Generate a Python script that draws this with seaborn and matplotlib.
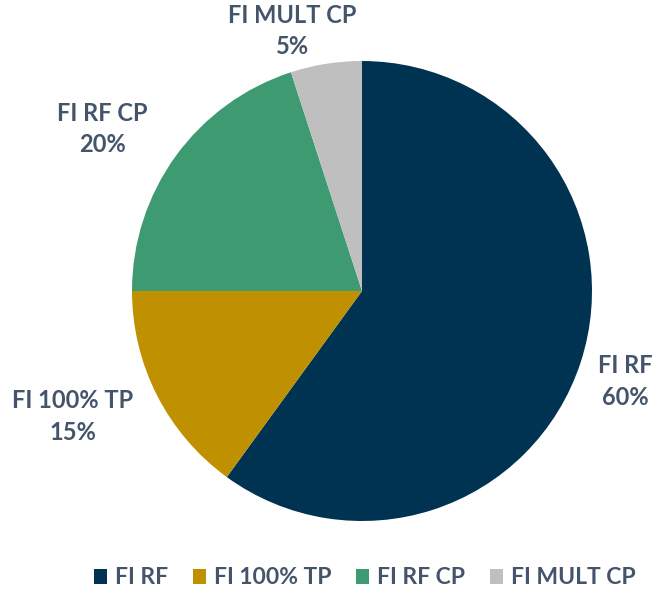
import numpy as np
import matplotlib
matplotlib.use('Agg')
import matplotlib.pyplot as plt
import seaborn as sns

# 数据
categories = ['FI RF', 'FI 100% TP', 'FI RF CP', 'FI MULT CP']
shares = [60, 15, 20, 5]
colors = ['#003352', '#BF9000', '#3E9A71', '#BFBFBF']
text_color = '#44546A'

sns.set_theme(style='white')
plt.rcParams['font.family'] = ['Lato', 'DejaVu Sans']

fig = plt.figure(figsize=(6.57, 5.94), dpi=100)
ax = fig.add_axes([0, 0, 1, 1])

wedges, _ = ax.pie(shares, colors=sns.color_palette(colors), startangle=90,
                   counterclock=False, radius=1.0,
                   wedgeprops={'linewidth': 0, 'edgecolor': 'none'})

# 标签：按扇区中心角度放置
label_dist = [1.21, 1.37, 1.33, 1.17]
label_shift = [-1, -3.5, 4, 6]  # 角度微调
for w, cat, val, d, s in zip(wedges, categories, shares, label_dist, label_shift):
    ang = np.deg2rad((w.theta1 + w.theta2) / 2 + s)
    ax.text(d * np.cos(ang), d * np.sin(ang), f'{cat}\n{val}%',
            ha='center', va='center', fontsize=17, fontweight='bold',
            color=text_color, linespacing=1.45)

# 让饼图中心位于 (362, 291) 像素，半径 230 像素
ax.set_xlim(-362 / 230, (657 - 362) / 230)
ax.set_ylim(-(594 - 291) / 230, 291 / 230)
ax.axis('off')

leg = fig.legend(wedges, categories, loc='center', bbox_to_anchor=(0.555, 0.027),
                 ncol=4, frameon=False, handlelength=0.55, handleheight=0.6,
                 handletextpad=0.35, columnspacing=1.1,
                 prop={'size': 16.5, 'weight': 'bold'})
for t in leg.get_texts():
    t.set_color(text_color)

fig.savefig('out.png', dpi=100)
